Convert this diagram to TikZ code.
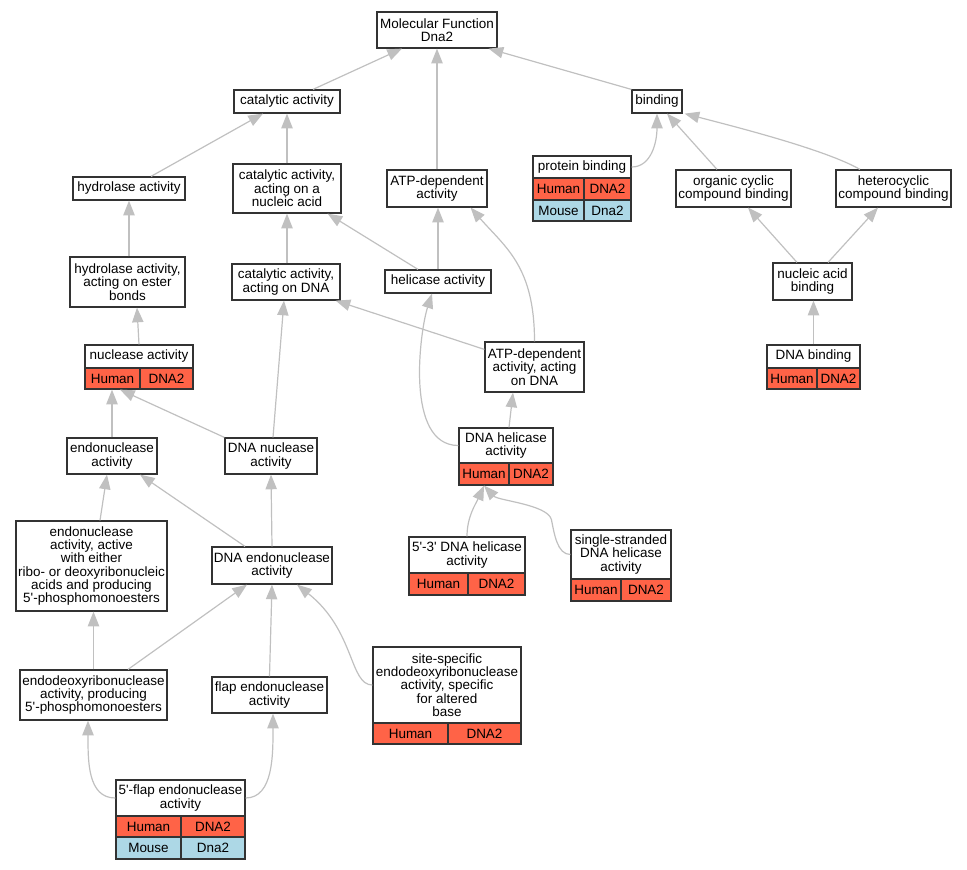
\documentclass[tikz,border=0pt]{standalone}
\usepackage{fontspec}
\setmainfont{Liberation Sans}
\usetikzlibrary{arrows.meta,calc}
\definecolor{hum}{HTML}{FF6347}
\definecolor{mou}{HTML}{ADD8E6}
\definecolor{edg}{HTML}{C0C0C0}
\definecolor{brd}{HTML}{333333}
\newcommand\apos{\textquotesingle}
\begin{document}
\begin{tikzpicture}[x=0.75pt,y=-0.75pt,
  bx/.style n args={2}{draw=brd, line width=0.9pt, fill=white, inner sep=0pt,
     minimum width=#1*0.75pt, minimum height=#2*0.75pt, align=center,
     font=\fontsize{10.1}{10}\selectfont},
  hc/.style n args={2}{bx={#1}{#2}, fill=hum},
  mc/.style n args={2}{bx={#1}{#2}, fill=mou},
  e/.style={draw=edg, line width=0.9pt, -{Triangle[length=11pt,width=8.5pt]}}]
\useasboundingbox (0,0) rectangle (967,869);
% nodes
\node[bx={120}{36}] (mf) at (437,30) {Molecular Function\\Dna2};
\node[bx={106}{23}] (cat) at (287,101.5) {catalytic activity};
\node[bx={50}{23}] (bind) at (657,101.5) {binding};
\node[bx={112}{23}] (hydro) at (129,188.5) {hydrolase activity};
\node[bx={108}{49}] (catna) at (287,188.5) {catalytic activity,\\acting on a\\nucleic acid};
\node[bx={100}{37}] (atp) at (437,188.5) {ATP-dependent\\activity};
\node[bx={98}{22}] (prot) at (582,167) {protein binding};
\node[hc={51}{22}] (protH) at (558.5,189) {Human};
\node[hc={47}{22}] (protD) at (607.5,189) {DNA2};
\node[mc={51}{21}] (protM) at (558.5,210.5) {Mouse};
\node[mc={47}{21}] (protMd) at (607.5,210.5) {Dna2};
\node[bx={115}{37}] (org) at (733.5,188.5) {organic cyclic\\compound binding};
\node[bx={115}{37}] (het) at (893.5,188.5) {heterocyclic\\compound binding};
\node[bx={115}{50}] (hest) at (127.5,282) {hydrolase activity,\\acting on ester\\bonds};
\node[bx={108}{36}] (catdna) at (286,282) {catalytic activity,\\acting on DNA};
\node[bx={106}{23}] (hel) at (438,281.5) {helicase activity};
\node[bx={79}{37}] (nab) at (812.5,281.5) {nucleic acid\\binding};
\node[bx={108}{23}] (nuc) at (139,356.5) {nuclease activity};
\node[hc={55}{21}] (nucH) at (112.5,378.5) {Human};
\node[hc={53}{21}] (nucD) at (166.5,378.5) {DNA2};
\node[bx={93}{23}] (dnab) at (813.5,356.5) {DNA binding};
\node[hc={50}{21}] (dnabH) at (792,378.5) {Human};
\node[hc={43}{21}] (dnabD) at (838.5,378.5) {DNA2};
\node[bx={99}{50}] (atpdna) at (534.5,367) {ATP-dependent\\activity, acting\\on DNA};
\node[bx={90}{36}] (endo) at (112,456) {endonuclease\\activity};
\node[bx={92}{36}] (dnan) at (271,456) {DNA nuclease\\activity};
\node[bx={94}{35}] (dh) at (506,445.5) {DNA helicase\\activity};
\node[hc={50}{22}] (dhH) at (484,474) {Human};
\node[hc={44}{22}] (dhD) at (531,474) {DNA2};
\node[bx={151}{90}] (endoa) at (91.5,566) {endonuclease\\activity, active\\with either\\ribo- or deoxyribonucleic\\acids and producing\\5\apos-phosphomonoesters};
\node[bx={120}{37}] (dendo) at (272,565.5) {DNA endonuclease\\activity};
\node[bx={116}{36}] (d53) at (467,555) {5\apos-3\apos{} DNA helicase\\activity};
\node[hc={59}{22}] (d53H) at (438.5,584) {Human};
\node[hc={57}{22}] (d53D) at (496.5,584) {DNA2};
\node[bx={100}{49}] (ss) at (621,554.5) {single-stranded\\DNA helicase\\activity};
\node[hc={50}{22}] (ssH) at (596,590) {Human};
\node[hc={50}{22}] (ssD) at (646,590) {DNA2};
\node[bx={147}{50}] (eda) at (93.5,695) {endodeoxyribonuclease\\activity, producing\\5\apos-phosphomonoesters};
\node[bx={115}{36}] (flap) at (269.5,695) {flap endonuclease\\activity};
\node[bx={148}{76}] (site) at (447,685) {site-specific\\endodeoxyribonuclease\\activity, specific\\for altered\\base};
\node[hc={75}{21}] (siteH) at (410.5,733.5) {Human};
\node[hc={73}{21}] (siteD) at (484.5,733.5) {DNA2};
\node[bx={129}{36}] (fl5) at (180.5,798) {5\apos-flap endonuclease\\activity};
\node[hc={65}{21}] (fl5H) at (148.5,826.5) {Human};
\node[hc={64}{21}] (fl5D) at (213,826.5) {DNA2};
\node[mc={65}{22}] (fl5M) at (148.5,848) {Mouse};
\node[mc={64}{22}] (fl5Md) at (213,848) {Dna2};
% edges
\draw[e] ($(cat.north)+(26,0)$) -- ($(mf.south)+(-35,0)$);
\draw[e] (atp.north) -- (mf.south);
\draw[e] (bind.north west) -- ($(mf.south east)+(-9,0)$);
\draw[e] ($(hydro.north)+(22,0)$) -- ($(cat.south)+(-24,0)$);
\draw[e] (catna.north) -- (cat.south);
\draw[e] (prot.east) .. controls +(20,0) and +(0,28) .. (bind.south);
\draw[e] ($(org.north)+(-16.5,0)$) -- ($(bind.south)+(10,0)$);
\draw[e] ($(het.north)+(-33.5,0)$) .. controls +(-35,-20) and +(50,13) .. ($(bind.south east)+(2,0)$);
\draw[e] ($(hest.north)+(1.5,0)$) -- (hydro.south);
\draw[e] ($(catdna.north)+(1,0)$) -- (catna.south);
\draw[e] ($(hel.north)+(-20,0)$) -- ($(catna.south east)+(-14,0)$);
\draw[e] (hel.north) -- (hel.north |- atp.south);
\draw[e] (atpdna.north) .. controls +(0,-75) and +(35,40) .. ($(atp.south east)+(-17,0)$);
\draw[e] ($(atpdna.north west)+(0,8)$) -- ($(catdna.south east)+(-5,0)$);
\draw[e] ($(nab.north)+(-15.5,0)$) -- ($(org.south)+(14.5,0)$);
\draw[e] ($(nab.north)+(15.5,0)$) -- ($(het.south)+(-15.5,0)$);
\draw[e] (dnab.north) -- (dnab.north |- nab.south);
\draw[e] (nuc.north) -- ($(hest.south)+(9.5,0)$);
\draw[e] (dh.west) .. controls +(-54,0) and +(-12,37) .. ($(hel.south)+(-6,0)$);
\draw[e] ($(dh.north)+(3,0)$) -- ($(atpdna.south)+(-21.5,0)$);
\draw[e] (endo.north) -- (endo.north |- nucH.south);
\draw[e] (dnan.north west) -- ($(nucH.south)+(7.5,0)$);
\draw[e] ($(dnan.north)+(2,0)$) -- ($(catdna.south)+(-2,0)$);
\draw[e] ($(endoa.north)+(8.5,0)$) -- ($(endo.south)+(-5,0)$);
\draw[e] ($(dendo.north)+(-27,0)$) -- ($(endo.south)+(28,0)$);
\draw[e] (dendo.north) -- (dnan.south);
\draw[e] (d53.north) .. controls +(0,-20) and +(-8,18) .. (dhH.south);
\draw[e] (ss.west) .. controls +(-13,0) and +(3,15) .. ++(-19,-35) .. controls +(-4,-15) and +(14,15) .. (dhH.south);
\draw[e] (eda.north) -- (eda.north |- endoa.south);
\draw[e] ($(eda.north)+(34.5,0)$) -- ($(dendo.south)+(-25,0)$);
\draw[e] (flap.north) -- (dendo.south);
\draw[e] (site.west) .. controls +(-23,0) and +(58,46) .. ($(dendo.south)+(25,0)$);
\draw[e] (fl5.west) .. controls +(-28,0) and +(0,40) .. ($(eda.south)+(-5.5,0)$);
\draw[e] (fl5.east) .. controls +(28,0) and +(0,40) .. ($(flap.south)+(3.5,0)$);
\end{tikzpicture}
\end{document}
